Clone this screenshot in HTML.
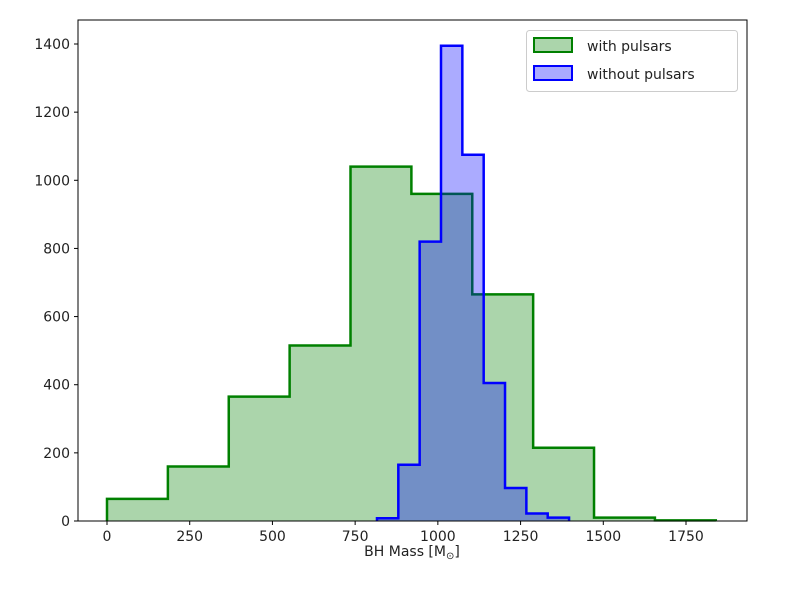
<!DOCTYPE html>
<html><head><meta charset="utf-8"><style>
body{margin:0;background:#fff;}
svg text{font-family:"DejaVu Sans","Liberation Sans",sans-serif;fill:#222;}
</style></head><body>
<svg width="810" height="596" xmlns="http://www.w3.org/2000/svg">
<g id="plot"></g>
<g id="axes"></g>
<rect x="78" y="20" width="669" height="501" fill="none" stroke="#000" stroke-width="1"/>
<text x="412" y="556" font-size="14" text-anchor="middle">BH Mass [M<tspan font-size="10" dy="3">⊙</tspan><tspan dy="-3">]</tspan></text>
<g>
<rect x="526.5" y="30.5" width="211" height="61" rx="3" fill="#fff" fill-opacity="0.8" stroke="#ccc"/>
<rect x="534" y="38" width="38" height="14" fill="#008000" fill-opacity="0.33" stroke="#008000" stroke-width="2"/>
<text x="587" y="51" font-size="14">with pulsars</text>
<rect x="534" y="66" width="38" height="14" fill="#0000ff" fill-opacity="0.33" stroke="#0000ff" stroke-width="2"/>
<text x="587" y="79" font-size="14">without pulsars</text>
</g>
</svg>
<script>
const greenEdges=[0,184,368,552,736,920,1104,1288,1472,1656,1840];
const greenCounts=[65,160,365,515,1040,960,665,215,10,2];
const blueEdges=[816,880.5,945,1009.5,1074,1138.5,1203,1267.5,1332,1396.5];
const blueCounts=[8,165,820,1395,1075,405,97,22,10];
const xTicks=[0,250,500,750,1000,1250,1500,1750];
const yTicks=[0,200,400,600,800,1000,1200,1400];
const NS='http://www.w3.org/2000/svg';
const xs=v=>107+v*0.33086;
const ys=v=>521-v*0.34071;
const plot=document.getElementById('plot');
const axes=document.getElementById('axes');
function hist(edges,counts,color,name){
  let d='M'+xs(edges[0])+','+ys(0);
  counts.forEach((c,i)=>{d+=' L'+xs(edges[i])+','+ys(c)+' L'+xs(edges[i+1])+','+ys(c);});
  d+=' L'+xs(edges[edges.length-1])+','+ys(0)+' Z';
  const f=document.createElementNS(NS,'path');
  f.setAttribute('d',d);f.setAttribute('fill',color);f.setAttribute('fill-opacity','0.33');f.setAttribute('stroke','none');
  
  
  plot.appendChild(f);
  let d2='M'+xs(edges[0])+','+ys(0);
  counts.forEach((c,i)=>{d2+=' L'+xs(edges[i])+','+ys(c)+' L'+xs(edges[i+1])+','+ys(c);});
  d2+=' L'+xs(edges[edges.length-1])+','+ys(0);
  const s=document.createElementNS(NS,'path');
  s.setAttribute('d',d2);s.setAttribute('fill','none');s.setAttribute('stroke',color);s.setAttribute('stroke-width','2.5');
  
  
  plot.appendChild(s);
}
hist(greenEdges,greenCounts,'#008000','with-pulsars-histogram');
hist(blueEdges,blueCounts,'#0000ff','without-pulsars-histogram');
xTicks.forEach(t=>{
  const l=document.createElementNS(NS,'line');
  l.setAttribute('x1',xs(t));l.setAttribute('x2',xs(t));l.setAttribute('y1',521);l.setAttribute('y2',525);l.setAttribute('stroke','#000');
  
  
  axes.appendChild(l);
  const tx=document.createElementNS(NS,'text');
  tx.setAttribute('x',xs(t));tx.setAttribute('y',541);tx.setAttribute('font-size','14');tx.setAttribute('text-anchor','middle');
  tx.textContent=t;
  
  
  axes.appendChild(tx);
});
yTicks.forEach(t=>{
  const l=document.createElementNS(NS,'line');
  l.setAttribute('x1',74);l.setAttribute('x2',78);l.setAttribute('y1',ys(t));l.setAttribute('y2',ys(t));l.setAttribute('stroke','#000');
  
  
  axes.appendChild(l);
  const tx=document.createElementNS(NS,'text');
  tx.setAttribute('x',70);tx.setAttribute('y',ys(t)+5);tx.setAttribute('font-size','14');tx.setAttribute('text-anchor','end');
  tx.textContent=t;
  
  
  axes.appendChild(tx);
});
</script>
</body></html>
